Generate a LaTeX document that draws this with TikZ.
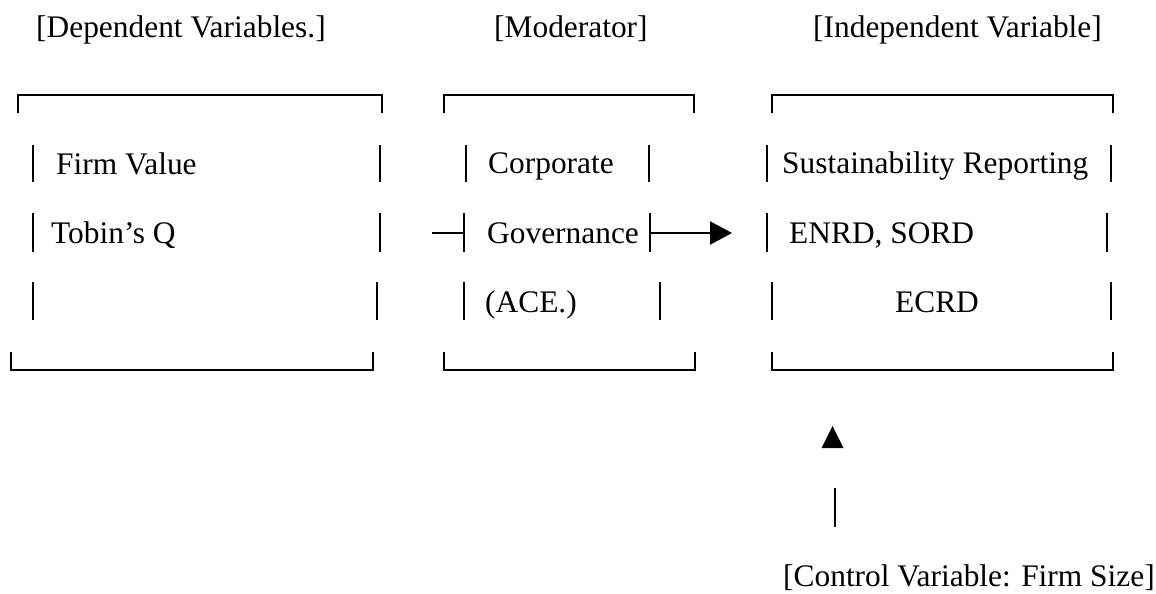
\documentclass[tikz,border=0pt]{standalone}
\usepackage{fontspec}
\setmainfont{Liberation Serif}
\usetikzlibrary{arrows.meta}

\begin{document}
\begin{tikzpicture}[x=0.5pt, y=-0.5pt, line width=1.2pt,
	lbl/.style={anchor=base west, inner sep=0pt, font=\fontsize{15.7}{19}\selectfont}]
	\useasboundingbox (0,0) rectangle (1156,594);
	
	% headings
	\node[lbl] (dep) at (35,37) {[Dependent Variables.]};
	\node[lbl] (mod) at (493,37) {[Moderator]};
	\node[lbl] (ind) at (812,37) {[Independent Variable]};
	
	% dependent variables
	\draw (18,113) -- (18,95) -- (382,95) -- (382,113);
	\draw (11,352) -- (11,370) -- (373,370) -- (373,352);
	\draw (33,145) -- (33,182) (33,213) -- (33,252) (33,282) -- (33,320);
	\draw (380,145) -- (380,182) (380,213) -- (380,252) (377,282) -- (377,320);
	\node[lbl] (fv) at (55,174) {Firm Value};
	\node[lbl] (tq) at (50,243) {Tobin’s Q};
	
	% moderator
	\draw (444,113) -- (444,95) -- (694,95) -- (694,113);
	\draw (444,352) -- (444,370) -- (695,370) -- (695,352);
	\draw (466,145) -- (466,182) (464,213) -- (464,252) (464,282) -- (464,320);
	\draw (649,145) -- (649,182) (650,213) -- (650,252) (660,282) -- (660,320);
	\node[lbl] (corp) at (487,173) {Corporate};
	\node[lbl] (gov) at (486,243) {Governance};
	\node[lbl] (ace) at (484,312) {(ACE.)};
	\coordinate (govL) at (432,233);
	\coordinate (govR) at (650,233);
	
	% independent variable
	\draw (772,113) -- (772,95) -- (1113,95) -- (1113,113);
	\draw (772,352) -- (772,370) -- (1113,370) -- (1113,352);
	\draw (767,145) -- (767,182) (767,213) -- (767,252) (772,282) -- (772,320);
	\draw (1111,145) -- (1111,182) (1107,213) -- (1107,252) (1111,282) -- (1111,320);
	\node[lbl] (sr) at (781,173) {Sustainability Reporting};
	\node[lbl] (es) at (788,243) {ENRD, SORD};
	\node[lbl, anchor=base] (ec) at (937,312) {ECRD};
	\coordinate (indL) at (732,233);
	
	% arrows
	\draw (govL) -- (464,233);
	\draw[-{Triangle[length=11pt,width=11.5pt]}] (govR) -- (indL);
	
	% control variable
	\node[lbl] (ctrl) at (782,586) {[Control Variable: Firm Size]};
	\coordinate (ctrlT) at (832.5,426);
	\coordinate (ctrlB) at (835,527);
	\fill (ctrlT) -- ++(11,22) -- ++(-22,0) -- cycle;
	\draw (ctrlB) -- ++(0,-39);
\end{tikzpicture}
\end{document}
